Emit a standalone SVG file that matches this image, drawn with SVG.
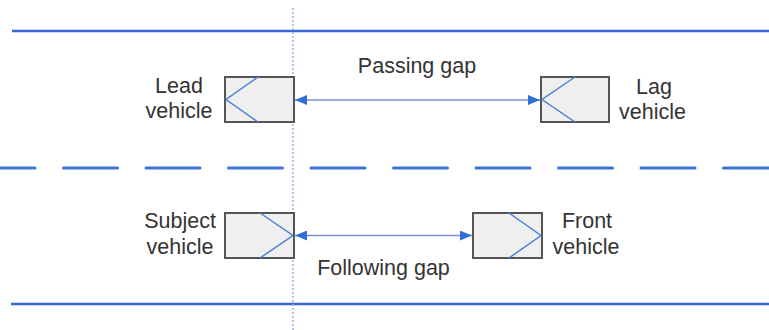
<svg xmlns="http://www.w3.org/2000/svg" width="769" height="330" viewBox="0 0 769 330">
<defs>
<style>
.lane{stroke:#3b66d4;stroke-width:2.6;fill:none}
.dash{stroke:#3d74d2;stroke-width:3;fill:none;stroke-dasharray:54 28.5;stroke-linecap:round}
.guide{stroke:#8db6ea;stroke-width:1.5;stroke-dasharray:2 2;fill:none}
.car{fill:#efefef;stroke:#555;stroke-width:2}
.chev{stroke:#4a80d8;stroke-width:1.5;fill:none}
.gap{stroke:#7f8ed6;stroke-width:1.3;fill:none;marker-start:url(#ah);marker-end:url(#ah)}
text{font-family:"Liberation Sans",Arial,sans-serif;font-size:21.5px;fill:#333;text-anchor:middle}
</style>
<marker id="ah" viewBox="0 0 12 10" refX="12" refY="5" markerWidth="12" markerHeight="10" markerUnits="userSpaceOnUse" orient="auto-start-reverse">
<path d="M0,0 L12,5 L0,10 Z" fill="#2e6fd8"/>
</marker>
</defs>
<g id="road">
<line class="lane" x1="12" y1="31" x2="769" y2="31"/>
<line class="lane" x1="11" y1="304" x2="769" y2="304"/>
<line class="dash" x1="-19" y1="168" x2="769" y2="168"/>
<line class="guide" x1="293" y1="8" x2="293" y2="330"/>
</g>
<g id="connectors">
<line class="gap" x1="295" y1="100" x2="540" y2="100"/>
<line class="gap" x1="295" y1="235.5" x2="472" y2="235.5"/>
</g>
<g id="lead">
<rect class="car" x="225" y="77" width="69" height="45"/>
<polyline class="chev" points="258,77 226,99.5 258,122"/>
<text x="179" y="93">Lead</text>
<text x="179" y="118">vehicle</text>
</g>
<g id="lag">
<rect class="car" x="541" y="77" width="68" height="45"/>
<polyline class="chev" points="575,77 542,99.5 575,122"/>
<text x="654" y="94">Lag</text>
<text x="652.5" y="119">vehicle</text>
</g>
<g id="subject">
<rect class="car" x="225" y="213" width="69" height="45"/>
<polyline class="chev" points="260,213 293,235.5 260,258"/>
<text x="180" y="228">Subject</text>
<text x="180" y="254">vehicle</text>
</g>
<g id="front">
<rect class="car" x="473" y="213" width="69" height="45"/>
<polyline class="chev" points="509,213 541,235.5 509,258"/>
<text x="587" y="228">Front</text>
<text x="586" y="254">vehicle</text>
</g>
<g id="labels">
<text x="417" y="73">Passing gap</text>
<text x="383.5" y="275">Following gap</text>
</g>
</svg>
